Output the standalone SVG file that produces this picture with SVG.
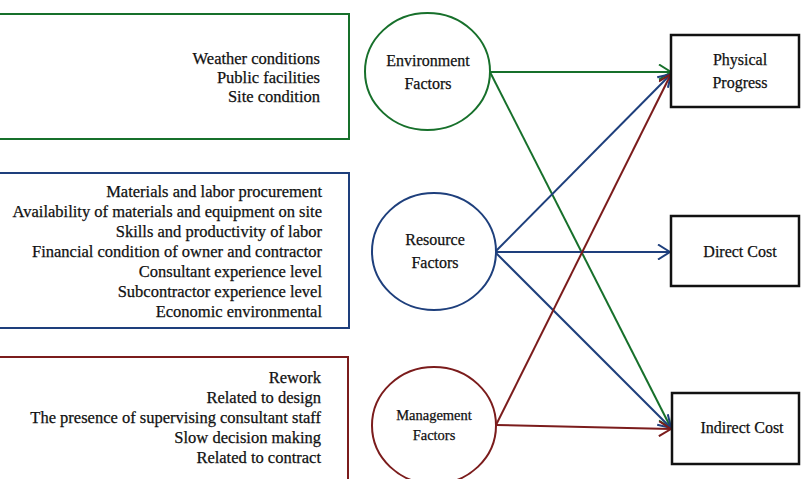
<svg xmlns="http://www.w3.org/2000/svg" width="802" height="479" viewBox="0 0 802 479">
<style>
  .lst { font-family: "Liberation Serif", "Times New Roman", serif; font-size: 16.5px; fill: #111; stroke: #111; stroke-width: 0.25; text-anchor: end; }
  .lbl { font-family: "Liberation Serif", "Times New Roman", serif; font-size: 16px; fill: #111; stroke: #111; stroke-width: 0.25; text-anchor: middle; }
  .g { stroke: #17702b; }
  .b { stroke: #1e3f7c; }
  .r { stroke: #7b1c1c; }
  .box { fill: #fff; stroke-width: 2; }
  .node { fill: #fff; stroke-width: 2; }
  .out { fill: #fff; stroke: #111; stroke-width: 2.5; }
  .edge { fill: none; stroke-width: 2; }
</style>
<defs>
  <marker id="ag" markerUnits="userSpaceOnUse" viewBox="0 0 14 16" refX="13" refY="8" markerWidth="14" markerHeight="16" orient="auto">
    <path d="M1,0.5 L13,8 L1,15.5" fill="none" stroke="#17702b" stroke-width="2"/>
  </marker>
  <marker id="ab" markerUnits="userSpaceOnUse" viewBox="0 0 14 16" refX="13" refY="8" markerWidth="14" markerHeight="16" orient="auto">
    <path d="M1,0.5 L13,8 L1,15.5" fill="none" stroke="#1e3f7c" stroke-width="2"/>
  </marker>
  <marker id="ar" markerUnits="userSpaceOnUse" viewBox="0 0 14 16" refX="13" refY="8" markerWidth="14" markerHeight="16" orient="auto">
    <path d="M1,0.5 L13,8 L1,15.5" fill="none" stroke="#7b1c1c" stroke-width="2"/>
  </marker>
</defs>
<rect width="802" height="479" fill="#fff"/>

<g id="env-list">
  <rect class="box g" x="-5" y="14" width="354" height="125"/>
  <text class="lst" x="320" y="64">Weather conditions</text>
  <text class="lst" x="320" y="83">Public facilities</text>
  <text class="lst" x="320" y="102">Site condition</text>
</g>
<g id="res-list">
  <rect class="box b" x="-5" y="173" width="354" height="155"/>
  <text class="lst" x="322" y="197">Materials and labor procurement</text>
  <text class="lst" x="322" y="217">Availability of materials and equipment on site</text>
  <text class="lst" x="322" y="237">Skills and productivity of labor</text>
  <text class="lst" x="322" y="257">Financial condition of owner and contractor</text>
  <text class="lst" x="322" y="277">Consultant experience level</text>
  <text class="lst" x="322" y="297">Subcontractor experience level</text>
  <text class="lst" x="322" y="317">Economic environmental</text>
</g>
<g id="man-list">
  <rect class="box r" x="-5" y="357" width="353" height="140"/>
  <text class="lst" x="321" y="383">Rework</text>
  <text class="lst" x="321" y="403">Related to design</text>
  <text class="lst" x="321" y="423">The presence of supervising consultant staff</text>
  <text class="lst" x="321" y="443">Slow decision making</text>
  <text class="lst" x="321" y="463">Related to contract</text>
</g>

<g id="connectors">
  <line class="edge g" x1="490" y1="72" x2="671" y2="72" marker-end="url(#ag)"/>
  <line class="edge g" x1="490" y1="72" x2="671" y2="428" marker-end="url(#ag)"/>
  <line class="edge b" x1="495" y1="252" x2="671" y2="74" marker-end="url(#ab)"/>
  <line class="edge b" x1="495" y1="252" x2="670" y2="252" marker-end="url(#ab)"/>
  <line class="edge b" x1="495" y1="252" x2="671" y2="428" marker-end="url(#ab)"/>
  <line class="edge r" x1="496" y1="425" x2="671" y2="74" marker-end="url(#ar)"/>
  <line class="edge r" x1="496" y1="425" x2="671" y2="429" marker-end="url(#ar)"/>
</g>

<g id="env">
  <ellipse class="node g" cx="427.5" cy="71.5" rx="62.5" ry="58.5"/>
  <text class="lbl" x="428" y="66">Environment</text>
  <text class="lbl" x="428" y="89">Factors</text>
</g>
<g id="res">
  <ellipse class="node b" cx="434" cy="251.5" rx="62" ry="58.5"/>
  <text class="lbl" x="435" y="245">Resource</text>
  <text class="lbl" x="435" y="268">Factors</text>
</g>
<g id="man">
  <ellipse class="node r" cx="434" cy="425.5" rx="62" ry="58.5"/>
  <text class="lbl" x="434" y="420" style="font-size:14.5px">Management</text>
  <text class="lbl" x="434" y="440" style="font-size:14.5px">Factors</text>
</g>

<g id="physical">
  <rect class="out" x="671" y="35" width="128" height="72"/>
  <text class="lbl" x="740" y="65">Physical</text>
  <text class="lbl" x="740" y="88">Progress</text>
</g>
<g id="direct">
  <rect class="out" x="671" y="216" width="128" height="70"/>
  <text class="lbl" x="740" y="257">Direct Cost</text>
</g>
<g id="indirect">
  <rect class="out" x="672" y="393" width="127" height="71"/>
  <text class="lbl" x="742" y="433">Indirect Cost</text>
</g>
</svg>
